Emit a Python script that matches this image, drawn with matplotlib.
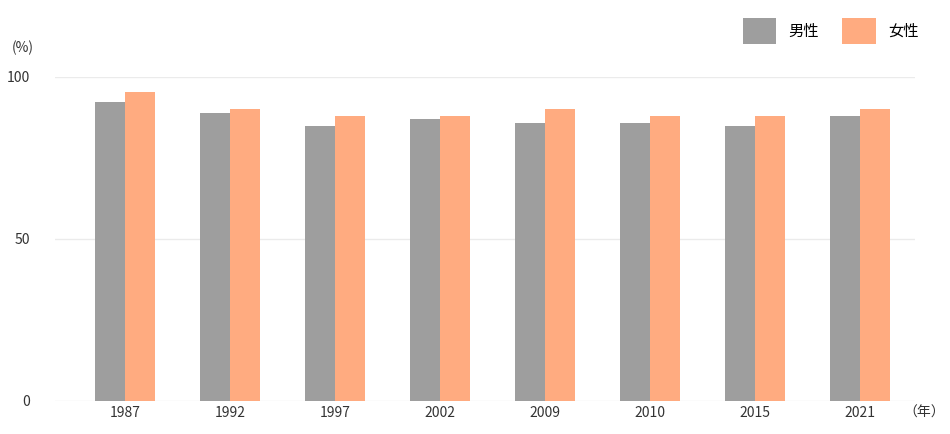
import numpy as np
import matplotlib.pyplot as plt

plt.rcParams['font.family'] = ['Noto Sans CJK JP', 'DejaVu Sans']

years = ["1987", "1992", "1997", "2002", "2009", "2010", "2015", "2021"]
male = [92.3, 88.9, 84.9, 87.0, 85.8, 85.8, 84.9, 88.0]
female = [95.4, 90.1, 88.0, 88.0, 90.1, 88.0, 88.0, 90.1]

fig = plt.figure(figsize=(9.5, 4.34), dpi=100)
ax = fig.add_axes([55 / 950, 33 / 434, 860 / 950, 324 / 434])

x = np.arange(len(years))
w = 0.286
ax.bar(x - w / 2, male, w, color="#9e9e9e", label="男性")
ax.bar(x + w / 2, female, w, color="#ffab80", label="女性")

ax.set_xlim(-0.667, 7.524)
ax.set_ylim(0, 100)
ax.set_yticks([0, 50, 100])
ax.set_xticks(x)
ax.set_xticklabels(years)
ax.grid(axis="y", color="#ebebeb", lw=1)
ax.set_axisbelow(True)
for s in ax.spines.values():
    s.set_visible(False)
ax.tick_params(length=0, labelsize=10, colors="#333333")
ax.tick_params(axis="y", pad=18)

fig.text(12 / 950, 1 - 48 / 434, "(%)", fontsize=10, color="#333333", va="center")
fig.text(903 / 950, 1 - 413 / 434, "（年）", fontsize=10, color="#333333", va="center")

ax.legend(loc="lower right", bbox_to_anchor=(1.02, 1.06), ncol=2, frameon=False,
          fontsize=11, handlelength=2.2, handleheight=2.2, columnspacing=1.5)

fig.savefig("out.png", dpi=100)
